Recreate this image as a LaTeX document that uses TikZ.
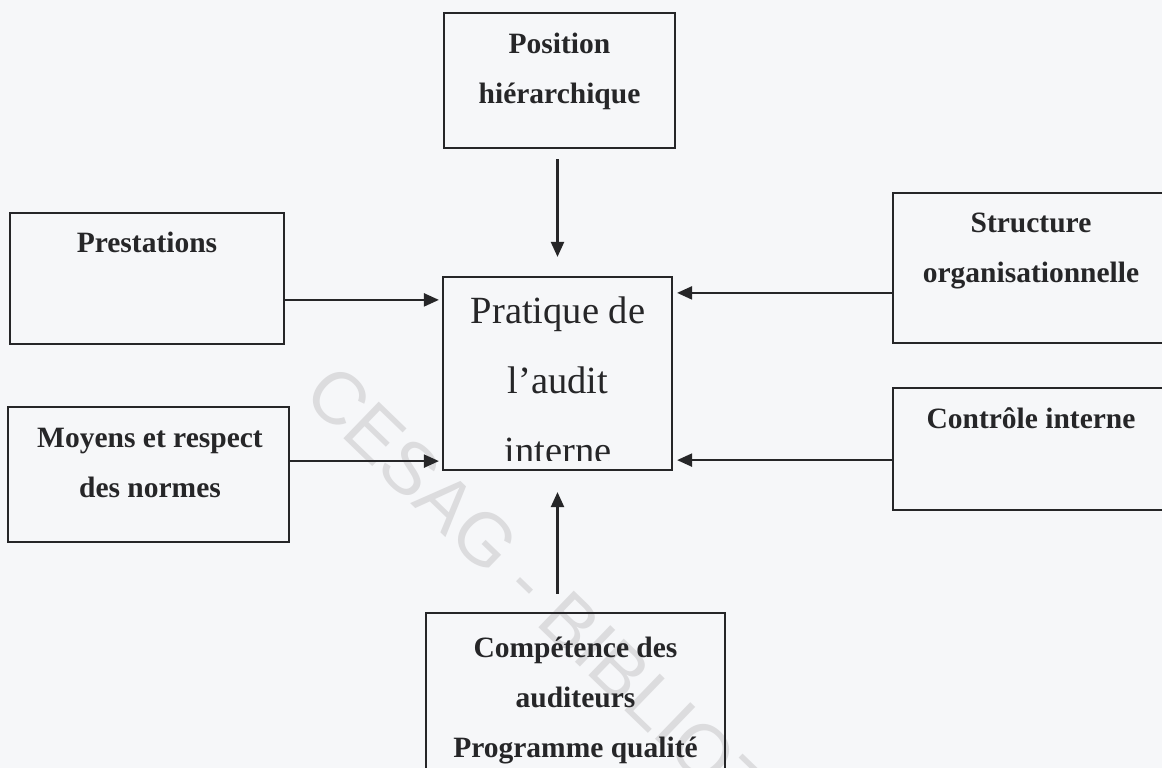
\documentclass[tikz,border=0pt]{standalone}
\usepackage{fontspec}
\setmainfont{Liberation Serif}
\newfontfamily\wmfont{Liberation Sans}
\usepackage{tikz}
\usetikzlibrary{arrows.meta, calc}

\definecolor{bgcol}{RGB}{246,247,249}
\definecolor{inkcol}{RGB}{38,38,40}
\definecolor{wmcol}{RGB}{220,220,222}

\begin{document}
\begin{tikzpicture}[x=1pt, y=-1pt,
    box/.style={draw=inkcol, line width=2.2pt, rectangle, inner sep=0pt},
    lbl/.style={text=inkcol, inner sep=0pt, align=center, anchor=base,
        font=\fontsize{29.5}{50}\selectfont\bfseries},
    arr/.style={draw=inkcol, line width=2.2pt, -{Triangle[length=15pt,width=13pt]}}]

% Draw background
\fill[bgcol] (0,0) rectangle (1162,768);
\useasboundingbox (0,0) rectangle (1162,768);
\clip (0,0) rectangle (1162,768);

% Draw watermark
\node[text=wmcol, font=\wmfont\fontsize{74}{74}\selectfont, rotate=-44, anchor=west, inner sep=0pt] (wm) at (314,384) {CESAG - BIBLIOTHEQUE};

% Draw boxes
\node[box, minimum width=231pt, minimum height=135pt] (pos) at (559.5,80.5) {};
\node[box, minimum width=229pt, minimum height=193pt] (pratique) at (557.5,373.5) {};
\node[box, minimum width=274pt, minimum height=131pt] (prest) at (147,278.5) {};
\node[box, minimum width=281pt, minimum height=135pt] (moyens) at (148.5,474.5) {};
\node[box, minimum width=277pt, minimum height=150pt] (struct) at (1031.5,268) {};
\node[box, minimum width=277pt, minimum height=122pt] (ctrl) at (1031.5,449) {};
\node[box, minimum width=299pt, minimum height=187pt] (comp) at (575.5,706.5) {};

% Draw labels (base = last line)
\node[lbl] (posT) at (559.5,103) {Position\\hiérarchique};
\node[lbl] (prestT) at (147,252) {Prestations};
\node[lbl] (moyensT) at (150,497) {Moyens et respect\\des normes};
\node[lbl] (structT) at (1031,282) {Structure\\organisationnelle};
\node[lbl] (ctrlT) at (1031,428) {Contrôle interne};
\node[lbl] (compT) at (575.5,757) {Compétence des\\auditeurs\\Programme qualité};
\begin{scope}
\clip (445,279) rectangle (670,460);
\node[lbl, font=\fontsize{38.5}{70}\selectfont] (pratiqueT) at (558,463) {Pratique de\\l’audit\\interne};
\end{scope}

% Draw arrow ends
\coordinate (pratPrest) at ([yshift=-24pt]pratique.north west);
\coordinate (pratMoy) at ([yshift=10pt]pratique.south west);
\coordinate (pratStruct) at ([yshift=-17pt]pratique.north east);
\coordinate (pratCtrl) at ([yshift=11pt]pratique.south east);

% Draw arrows
\draw[arr, shorten <=10pt, shorten >=19pt] (pos.south -| pratique.north) -- (pratique.north);
\draw[arr, shorten <=18pt, shorten >=21pt] (comp.north -| pratique.south) -- (pratique.south);
\draw[arr, shorten >=3pt] (prest.east |- pratPrest) -- (pratPrest);
\draw[arr, shorten >=3pt] (moyens.east |- pratMoy) -- (pratMoy);
\draw[arr, shorten >=4pt] (struct.west |- pratStruct) -- (pratStruct);
\draw[arr, shorten >=4pt] (ctrl.west |- pratCtrl) -- (pratCtrl);
\end{tikzpicture}
\end{document}
